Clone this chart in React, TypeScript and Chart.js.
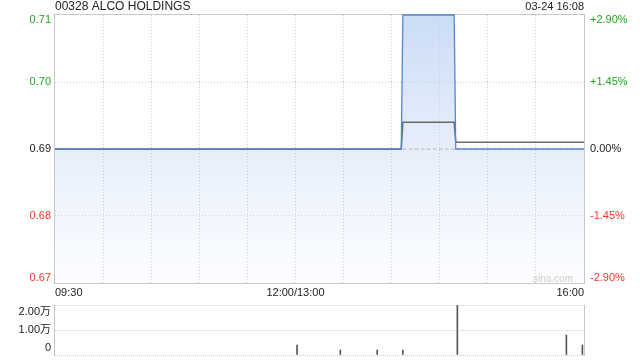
import React, { useEffect, useRef } from "react";
import { Chart, registerables } from "chart.js";

Chart.register(...registerables);

const titleText = "00328 ALCO HOLDINGS";
const stampText = "03-24 16:08";
const watermark = "sina.com";
const prevClose = 0.69;
const priceTicks = [0.71, 0.7, 0.69, 0.68, 0.67];
const timeLabels = ["09:30", "12:00/13:00", "16:00"];
const timeLabelAt = ["09:30", "12:00", "16:00"];

const priceTimes = ["09:30", "14:06", "14:07", "14:39", "14:40", "16:00"];
const priceValues = [0.69, 0.69, 0.71, 0.71, 0.69, 0.69];
const avgTimes = ["09:30", "14:06", "14:07", "14:39", "14:40", "16:00"];
const avgValues = [0.69, 0.69, 0.694, 0.694, 0.691, 0.691];

const volTimes = ["13:01", "13:28", "13:51", "14:07", "14:41", "15:49", "15:59"];
const volValues = [4000, 2000, 2000, 2000, 20000, 8000, 4000];
const volTicks = [20000, 10000, 0];
const volTickLabels = ["2.00万", "1.00万", "0"];

const FONT = "'Liberation Sans', Arial, 'Noto Sans CJK SC', sans-serif";
const GREEN = "#22a522";
const RED = "#f0382a";
const GRID = "#cfcfcf";
const FRAME = "#c8c8c8";

function toIndex(t: string): number {
  const [h, m] = t.split(":").map(Number);
  const mins = h * 60 + m;
  return mins <= 720 ? mins - 570 : mins - 780 + 150;
}

function colorFor(v: number) {
  if (Math.abs(v - prevClose) < 1e-9) return "#222";
  return v > prevClose ? GREEN : RED;
}

const mainDeco = {
  id: "mainDeco",
  beforeDatasetsDraw(chart: any) {
    const { ctx, chartArea: a } = chart;
    ctx.save();
    ctx.strokeStyle = FRAME;
    ctx.lineWidth = 1;
    ctx.strokeRect(a.left - 0.5, a.top - 0.5, a.right - a.left + 1, a.bottom - a.top + 1);
    ctx.font = "10px " + FONT;
    ctx.fillStyle = "#cccccc";
    ctx.textAlign = "right";
    ctx.textBaseline = "middle";
    ctx.fillText(watermark, a.right - 11, a.bottom - 4);
    ctx.restore();
  },
  afterDraw(chart: any) {
    const { ctx, chartArea: a } = chart;
    const y = chart.scales.y;
    const x = chart.scales.x;
    ctx.save();
    ctx.font = "11px " + FONT;
    ctx.textBaseline = "middle";
    priceTicks.forEach((v) => {
      let py = y.getPixelForValue(v);
      py = Math.min(Math.max(py, a.top + 5), a.bottom - 5);
      ctx.fillStyle = colorFor(v);
      ctx.textAlign = "right";
      ctx.fillText(v.toFixed(2), a.left - 4, py);
      const pct = ((v - prevClose) / prevClose) * 100;
      const txt = (pct > 0.0001 ? "+" : "") + pct.toFixed(2) + "%";
      ctx.textAlign = "left";
      ctx.fillText(txt, a.right + 6, py);
    });
    ctx.fillStyle = "#222";
    timeLabels.forEach((lab, i) => {
      const px = x.getPixelForValue(toIndex(timeLabelAt[i]));
      ctx.textAlign = i === 0 ? "left" : i === timeLabels.length - 1 ? "right" : "center";
      ctx.fillText(lab, px, a.bottom + 10);
    });
    ctx.font = "12px " + FONT;
    ctx.textAlign = "left";
    ctx.fillText(titleText, a.left, 7);
    ctx.font = "11px " + FONT;
    ctx.textAlign = "right";
    ctx.fillText(stampText, a.right, 7);
    ctx.restore();
  },
};

const volDeco = {
  id: "volDeco",
  beforeDatasetsDraw(chart: any) {
    const { ctx, chartArea: a } = chart;
    ctx.save();
    ctx.strokeStyle = FRAME;
    ctx.lineWidth = 1;
    ctx.beginPath();
    ctx.moveTo(a.left - 0.5, a.top);
    ctx.lineTo(a.left - 0.5, a.bottom + 1);
    ctx.moveTo(a.right + 0.5, a.top);
    ctx.lineTo(a.right + 0.5, a.bottom + 1);
    ctx.stroke();
    ctx.restore();
  },
  afterDraw(chart: any) {
    const { ctx, chartArea: a } = chart;
    const y = chart.scales.y;
    ctx.save();
    ctx.font = "11px " + FONT;
    ctx.textBaseline = "middle";
    ctx.textAlign = "right";
    ctx.fillStyle = "#222";
    volTicks.forEach((v, i) => {
      let py = y.getPixelForValue(v);
      py = Math.min(Math.max(py, a.top + 7), a.bottom - 7);
      ctx.fillText(volTickLabels[i], a.left - 4, py);
    });
    ctx.restore();
  },
};

export default function App() {
  const mainRef = useRef<HTMLCanvasElement>(null);
  const volRef = useRef<HTMLCanvasElement>(null);

  useEffect(() => {
    const fillGrad = (context: any) => {
      const chart = context.chart;
      const a = chart.chartArea;
      if (!a) return "rgba(220,232,250,0.6)";
      const g = chart.ctx.createLinearGradient(0, a.top, 0, a.bottom);
      g.addColorStop(0, "rgba(190,212,245,0.8)");
      g.addColorStop(0.5, "rgba(220,231,249,0.7)");
      g.addColorStop(1, "rgba(250,252,255,0.6)");
      return g;
    };

    const main = new Chart(mainRef.current!, {
      type: "line",
      data: {
        datasets: [
          {
            label: "price",
            data: priceTimes.map((t, i) => ({ x: toIndex(t), y: priceValues[i] })),
            borderColor: "rgb(88,132,212)",
            borderWidth: 1.3,
            pointRadius: 0,
            fill: "start",
            backgroundColor: fillGrad,
            clip: 4,
          },
          {
            label: "avg",
            data: avgTimes.map((t, i) => ({ x: toIndex(t), y: avgValues[i] })),
            borderColor: "#6a6a6a",
            borderWidth: 1.5,
            pointRadius: 0,
            fill: false,
            clip: 4,
          },
          {
            label: "prev",
            data: [
              { x: toIndex(priceTimes[0]), y: prevClose },
              { x: toIndex(priceTimes[priceTimes.length - 1]), y: prevClose },
            ],
            borderColor: "#b8b8b8",
            borderWidth: 1,
            borderDash: [3, 3],
            pointRadius: 0,
            fill: false,
          },
        ],
      },
      options: {
        animation: false,
        responsive: false,
        events: [],
        layout: { padding: { top: 15, right: 56, left: 0, bottom: 0 } },
        plugins: {
          legend: { display: false },
          tooltip: { enabled: false },
          filler: { drawTime: "beforeDraw" } as any,
        },
        scales: {
          x: {
            type: "linear",
            min: 0,
            max: 330,
            offset: false,
            ticks: { display: false, stepSize: 30 },
            grid: {
              color: (c: any) => (c.index === 0 || c.index === 11 ? "transparent" : GRID),
              drawTicks: false,
            },
            border: { display: false, dash: [1, 2] },
            afterFit: (s: any) => {
              s.height = 17;
            },
          },
          y: {
            min: 0.67,
            max: 0.71,
            ticks: { display: false, stepSize: 0.01 },
            grid: {
              color: (c: any) => (c.index === 0 || c.index === 4 ? "transparent" : GRID),
              drawTicks: false,
            },
            border: { display: false, dash: [1, 2] },
            afterFit: (s: any) => {
              s.width = 55;
            },
          },
        },
      } as any,
      plugins: [mainDeco],
    });

    const vol = new Chart(volRef.current!, {
      type: "bar",
      data: {
        datasets: [
          {
            label: "vol",
            data: volTimes.map((t, i) => ({ x: toIndex(t), y: volValues[i] })),
            backgroundColor: "#555555",
            barThickness: 1,
            grouped: false,
          } as any,
        ],
      },
      options: {
        animation: false,
        responsive: false,
        events: [],
        layout: { padding: { top: 5, right: 56, left: 0, bottom: 5 } },
        plugins: { legend: { display: false }, tooltip: { enabled: false } },
        scales: {
          x: { type: "linear", min: 0, max: 330, offset: false, display: false },
          y: {
            min: 0,
            max: 20000,
            ticks: { display: false, stepSize: 10000 },
            grid: { color: GRID, drawTicks: false },
            border: { display: false, dash: [1, 1] },
            afterFit: (s: any) => {
              s.width = 55;
            },
          },
        },
      } as any,
      plugins: [volDeco],
    });

    return () => {
      main.destroy();
      vol.destroy();
    };
  }, []);

  return (
    <div style={{ position: "fixed", left: 0, top: 0, width: 640, height: 360, background: "#fff" }}>
      <canvas ref={mainRef} width={640} height={300} style={{ position: "absolute", left: 0, top: 0 }} />
      <canvas ref={volRef} width={640} height={60} style={{ position: "absolute", left: 0, top: 300 }} />
    </div>
  );
}
